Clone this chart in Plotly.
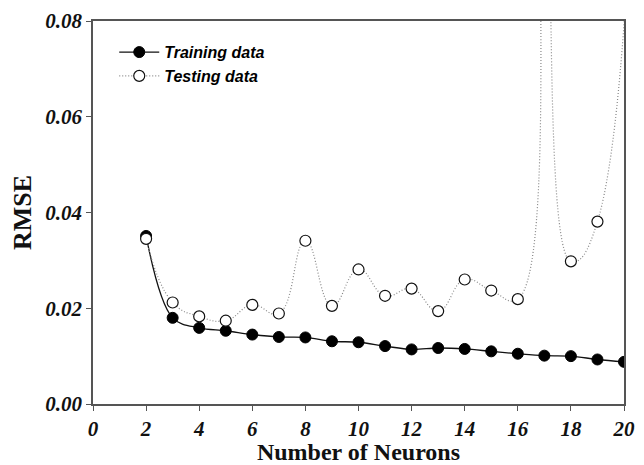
import plotly.graph_objects as go

neurons = [2, 3, 4, 5, 6, 7, 8, 9, 10, 11, 12, 13, 14, 15, 16, 17, 18, 19, 20]
training_rmse = [0.0351, 0.0180, 0.0159, 0.0153, 0.0145, 0.0140, 0.0139, 0.0131, 0.0129,
                 0.0121, 0.0114, 0.0117, 0.0115, 0.0110, 0.0105, 0.0101, 0.0100, 0.0093, 0.0088]
testing_rmse = [0.0345, 0.0212, 0.0183, 0.0174, 0.0207, 0.0189, 0.0341, 0.0205, 0.0281,
                0.0226, 0.0241, 0.0194, 0.0260, 0.0237, 0.0219, 0.11, 0.0298, 0.0381, 0.60]
x_ticks = list(range(0, 21, 2))
y_ticks = [0.00, 0.02, 0.04, 0.06, 0.08]

fig = go.Figure()
fig.add_trace(go.Scatter(
    x=neurons, y=training_rmse, name="Training data", mode="lines+markers",
    line=dict(color="#111111", width=1.3, shape="spline", smoothing=1),
    marker=dict(symbol="circle", size=11, color="#000000", line=dict(color="#000000", width=1)),
))
fig.add_trace(go.Scatter(
    x=neurons, y=testing_rmse, name="Testing data", mode="lines+markers",
    line=dict(color="#888888", width=1.2, shape="spline", smoothing=1.3, dash="1px,2px"),
    marker=dict(symbol="circle", size=11, color="#ffffff", line=dict(color="#111111", width=1.2)),
))

tick_font = dict(family="Liberation Serif", size=21, color="#111111", style="italic", weight="bold")
fig.update_layout(
    width=636, height=457,
    margin=dict(l=85, r=20, t=13, b=61),
    paper_bgcolor="white", plot_bgcolor="white",
    showlegend=True,
    legend=dict(x=0.04, y=0.963, xanchor="left", yanchor="top",
                bgcolor="rgba(0,0,0,0)", tracegroupgap=0, itemwidth=40,
                font=dict(family="Liberation Sans", size=16, color="#000000",
                          style="italic", weight="bold")),
)
fig.update_xaxes(
    range=[0, 20], tickvals=x_ticks, ticktext=[str(v) for v in x_ticks],
    showgrid=False, zeroline=False, showline=True, linecolor="#555555", linewidth=1.5,
    mirror=True, ticks="outside", ticklen=5, tickcolor="#555555", automargin=False,
    tickfont=tick_font,
    title=dict(text="Number of Neurons", standoff=8,
               font=dict(family="Liberation Serif", size=24, color="#111111", weight="bold")),
)
fig.update_yaxes(
    range=[0, 0.08], tickvals=y_ticks, ticktext=[f"{v:.2f}" for v in y_ticks],
    showgrid=False, zeroline=False, showline=True, linecolor="#555555", linewidth=1.5,
    mirror=True, ticks="outside", ticklen=5, tickcolor="#555555", automargin=False,
    tickfont=tick_font,
    title=dict(text="RMSE", standoff=8,
               font=dict(family="Liberation Serif", size=26, color="#111111", weight="bold")),
)
fig.write_html("out.html")
